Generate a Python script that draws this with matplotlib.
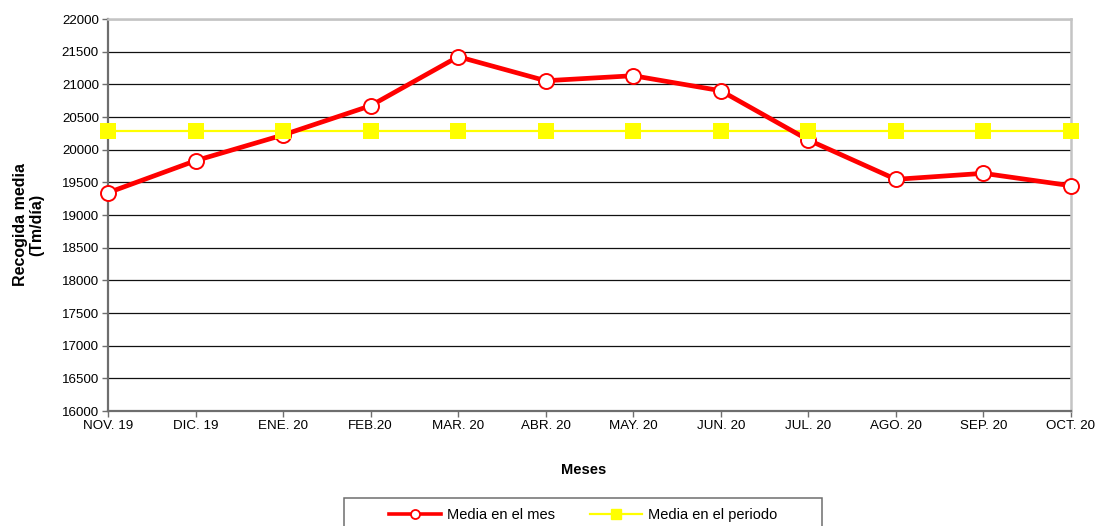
import matplotlib
matplotlib.use("Agg")
import matplotlib.pyplot as plt
from matplotlib.lines import Line2D
from matplotlib.patches import Rectangle

plt.rcParams['font.family'] = ['Liberation Sans', 'DejaVu Sans']

# Monthly data
months = ["NOV. 19", "DIC. 19", "ENE. 20", "FEB.20", "MAR. 20", "ABR. 20",
          "MAY. 20", "JUN. 20", "JUL. 20", "AGO. 20", "SEP. 20", "OCT. 20"]
media_mes = [19341, 19831, 20225, 20673, 21423, 21055,
             21132, 20902, 20148, 19546, 19638, 19448]
media_periodo = [20280] * 12
y_ticks = list(range(16000, 22001, 500))

W, H = 1097, 526
fig = plt.figure(figsize=(W / 100, H / 100), dpi=100)
ax = fig.add_axes([108 / W, 1 - 411 / H, (1071 - 108) / W, (411 - 19) / H])

x = list(range(len(months)))
RED, YEL = "#ff0000", "#ffff00"

# lines first, then markers (yellow markers on top)
ax.plot(x, media_periodo, color=YEL, lw=1.6, zorder=3, solid_capstyle="butt")
ax.plot(x, media_mes, color=RED, lw=3.4, zorder=4, solid_joinstyle="round")
ax.plot(x, media_mes, ls="none", marker="o", ms=10.8, mfc="white",
        mec=RED, mew=1.4, zorder=5, clip_on=False)
ax.plot(x, media_periodo, ls="none", marker="s", ms=11, mfc=YEL,
        mec=YEL, mew=0, zorder=6, clip_on=False)

ax.set_xlim(0, len(months) - 1)
ax.set_ylim(y_ticks[0], y_ticks[-1])
ax.set_yticks(y_ticks)
ax.set_xticks(x)
ax.set_xticklabels(months)

ax.set_axisbelow(True)
ax.yaxis.grid(True, color="#111111", lw=0.9)
ax.xaxis.grid(False)

for side in ("left", "bottom"):
    ax.spines[side].set_color("#6e6e6e")
    ax.spines[side].set_linewidth(1.6)
for side in ("top", "right"):
    ax.spines[side].set_color("#c4c4c4")
    ax.spines[side].set_linewidth(1.8)

ax.tick_params(axis="both", labelsize=9.6, colors="#6e6e6e", labelcolor="black",
               length=4, width=1.0, direction="out", pad=2.5)

fig.text(28.5 / W, 1 - 225 / H, "Recogida media\n(Tm/día)", rotation=90,
         ha="center", va="center", fontsize=11.5, fontweight="bold",
         linespacing=1.06)
fig.text(584 / W, 1 - 470 / H, "Meses", ha="center", va="center",
         fontsize=10.5, fontweight="bold")

# legend frame (open at the bottom edge of the figure)
fig.patches.append(Rectangle((344 / W, -20 / H), (822 - 344) / W, (526 - 498 + 20) / H,
                             transform=fig.transFigure, fill=False,
                             edgecolor="#6e6e6e", lw=1.1))

handles = [
    Line2D([], [], color=RED, lw=2.6, marker="o", ms=6.5, mfc="white", mec=RED, mew=1.3),
    Line2D([], [], color=YEL, lw=1.6, marker="s", ms=7, mfc=YEL, mec=YEL),
]
fig.legend(handles, ["Media en el mes", "Media en el periodo"], loc="center",
           bbox_to_anchor=(583 / W, 1 - 515 / H), ncol=2, frameon=False,
           fontsize=10.5, handlelength=3.6, handletextpad=0.4, columnspacing=2.4)

fig.savefig("out.png", dpi=100)
